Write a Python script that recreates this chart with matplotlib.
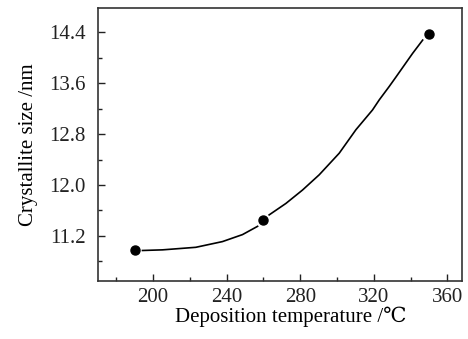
import numpy as np
import matplotlib
matplotlib.use("Agg")
import matplotlib.pyplot as plt
from matplotlib.ticker import MultipleLocator

plt.rcParams['font.family'] = ['Liberation Serif', 'DejaVu Serif', 'Noto Sans CJK SC']

# measured points
temp = [190, 260, 350]
size = [10.97, 11.45, 14.38]

# fitted curve (nan = gap at the middle marker)
curve_t = [194.2, 205.1, 223.2, 237.7, 248.6, 256.8, np.nan, 263.1, 272.2, 281.2, 290.3,
           301.2, 310.3, 319.3, 323.0, 328.4, 332.1, 341.1, 346.6]
curve_s = [10.97, 10.98, 11.02, 11.11, 11.22, 11.35, np.nan, 11.53, 11.71, 11.92, 12.16,
           12.50, 12.87, 13.18, 13.34, 13.55, 13.70, 14.07, 14.28]

fig = plt.figure(figsize=(4.68, 3.39), dpi=100)
ax = fig.add_axes([0.2094, 0.1711, 0.7778, 0.8044])

ax.plot(curve_t, curve_s, color='black', lw=1.2, zorder=2)
ax.plot(temp, size, 'o', color='black', ms=6.5, zorder=3)

ax.set_xlim(170, 368)
ax.set_ylim(10.49, 14.78)
ax.xaxis.set_major_locator(MultipleLocator(40))
ax.xaxis.set_minor_locator(MultipleLocator(20))
ax.yaxis.set_minor_locator(MultipleLocator(0.4))
ax.set_yticks([11.2, 12.0, 12.8, 13.6, 14.4])
ax.set_yticklabels(['11.2', '12.0', '12.8', '13.6', '14.4'])

ax.tick_params(which='both', direction='in', top=False, right=False, labelsize=15, colors='#222222')
ax.tick_params(which='major', length=5, width=1)
ax.tick_params(which='minor', length=3, width=1)
ax.tick_params(axis='x', pad=5)
ax.tick_params(axis='y', pad=9)
for s in ax.spines.values():
    s.set_linewidth(1.2)
    s.set_color('#333333')

ax.set_xlabel('Deposition temperature /℃', fontsize=15)
ax.xaxis.set_label_coords(0.53, -0.095)
ax.set_ylabel('Crystallite size /nm', fontsize=15, labelpad=8)

fig.savefig('out.png', dpi=100)
